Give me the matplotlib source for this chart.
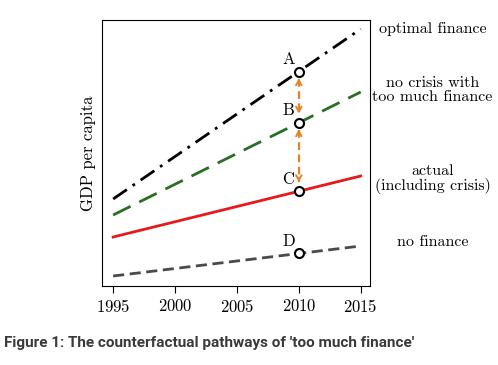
import matplotlib
matplotlib.use("Agg")
import matplotlib.pyplot as plt
import numpy as np

years = [1995, 2015]
optimal = [87, 257]
no_crisis = [71, 194]
actual = [49, 110]
no_fin = [10, 40]

pt_year = 2010
pt_names = ["A", "B", "C", "D"]
pt_vals = [214.5, 163.5, 95, 33]

labels = ["optimal finance", "no crisis with\ntoo much finance",
          "actual\n(including crisis)", "no finance"]
label_y = [257, 196, 107, 44]

plt.rcParams['font.family'] = ['cmr10', 'DejaVu Serif']
plt.rcParams['axes.formatter.use_mathtext'] = True

fig = plt.figure(figsize=(4.98, 3.65), dpi=100)
ax = fig.add_axes([102/498, 1 - 286/365, 268/498, 266/365])

ax.plot(years, optimal, color='black', lw=2, dashes=[6, 2.5, 1, 2.5])
ax.plot(years, no_crisis, color='#2a6e23', lw=2, dashes=[7, 3.5])
ax.plot(years, actual, color='#e8191c', lw=2)
ax.plot(years, no_fin, color='#4a4a4a', lw=2, dashes=[4, 2])

ax.plot([pt_year] * 4, pt_vals, 'o', ms=6.5, mfc='white', mec='black', mew=1.5, zorder=5)
for n, v in zip(pt_names, pt_vals):
    ax.annotate(n, (pt_year, v), xytext=(-7.5, 8.5), textcoords='offset points',
                ha='center', va='center', fontsize=12)

# dashed double arrows between the points
orange = '#e0852a'
for top, bot in [(pt_vals[0], pt_vals[1]), (pt_vals[1], pt_vals[2])]:
    t, b = top - 7, bot + 9
    ax.plot([pt_year, pt_year], [t, b], color=orange, lw=1.6, dashes=[3.5, 2])
    ax.annotate('', xy=(pt_year, t), xytext=(pt_year, t - 4),
                arrowprops=dict(arrowstyle='->,head_length=0.35,head_width=0.2',
                                color=orange, lw=1.4, shrinkA=0, shrinkB=0))
    ax.annotate('', xy=(pt_year, b), xytext=(pt_year, b + 4),
                arrowprops=dict(arrowstyle='->,head_length=0.35,head_width=0.2',
                                color=orange, lw=1.4, shrinkA=0, shrinkB=0))

ax.set_xlim(1994.1, 2015.75)
ax.set_ylim(0, 266)
ax.set_xticks([1995, 2000, 2005, 2010, 2015])
ax.set_yticks([])
ax.tick_params(axis='x', labelsize=12, direction='out', length=5)
ax.set_ylabel('GDP per capita', fontsize=12, labelpad=4)

for lab, y in zip(labels, label_y):
    ax.text(2020.8, y, lab, ha='center', va='center', fontsize=11.5,
            linespacing=1.0, clip_on=False)

fig.text(0.008, 1 - 343/365, "Figure 1: The counterfactual pathways of 'too much finance'",
         fontsize=11, fontweight='bold', color='#3a3a3a', family='Roboto',
         va='center', ha='left')

fig.savefig('out.png', dpi=100)
